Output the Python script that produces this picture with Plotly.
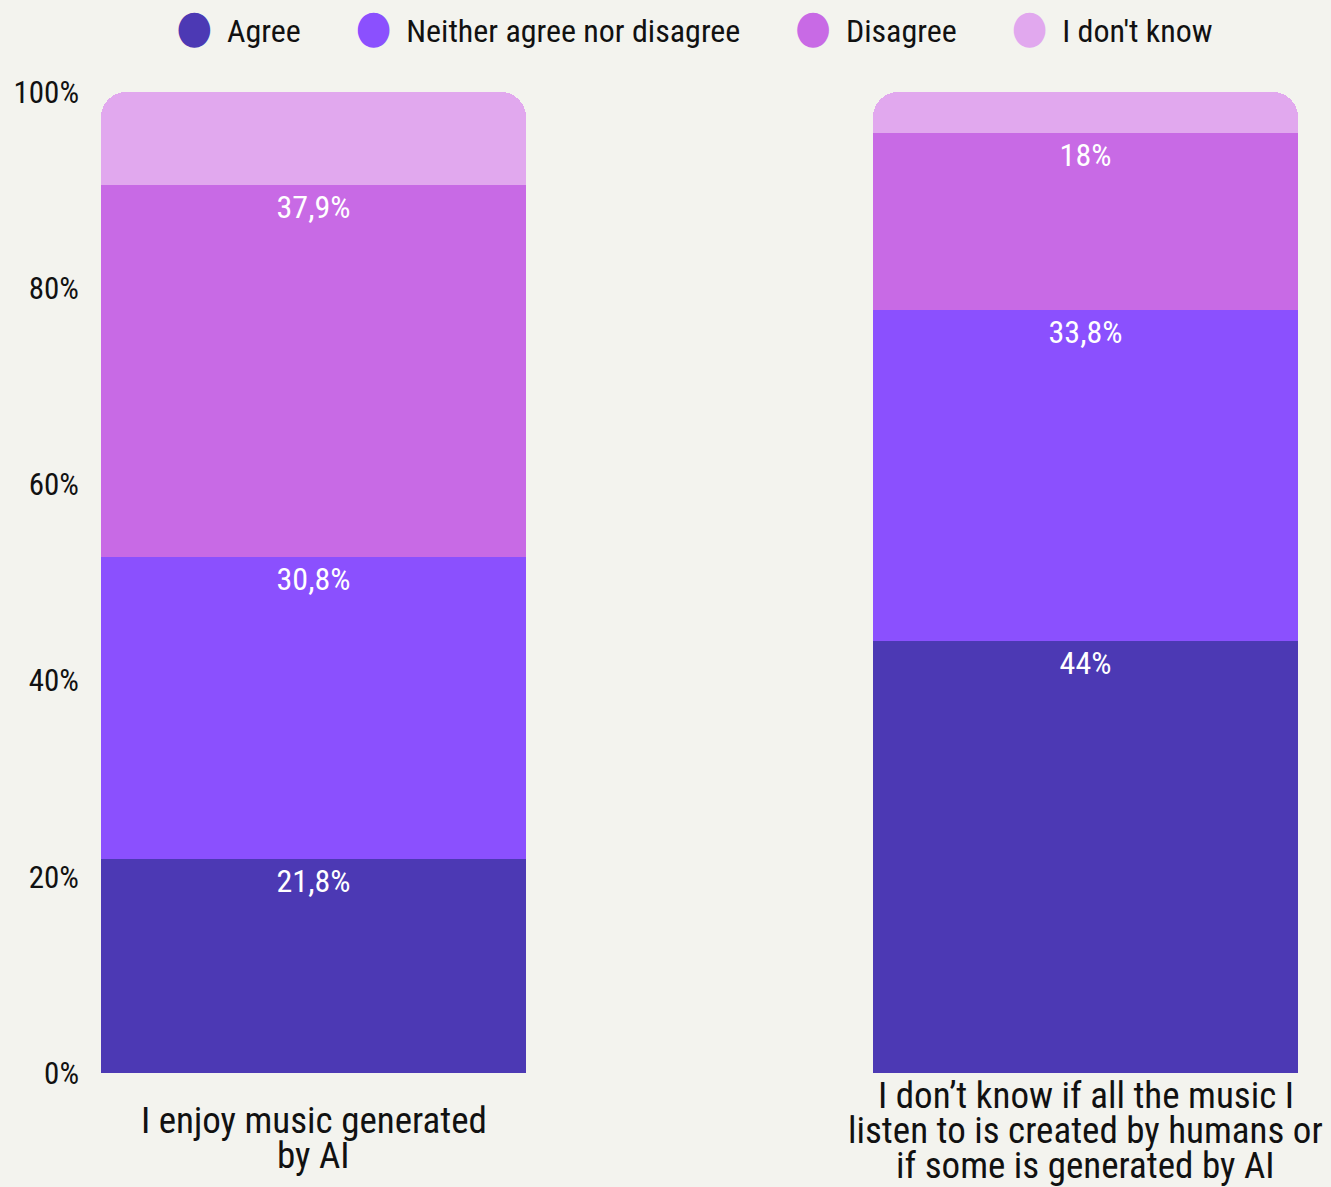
import plotly.graph_objects as go

# Survey statements (one stacked bar each) and their wrapped label lines
questions = [
    "I enjoy music generated by AI",
    "I don’t know if all the music I listen to is created by humans or if some is generated by AI",
]
question_lines = [
    ["I enjoy music generated", "by AI"],
    ["I don’t know if all the music I", "listen to is created by humans or", "if some is generated by AI"],
]

answers = ["Agree", "Neither agree nor disagree", "Disagree", "I don't know"]

# Share of respondents (%) per answer, one value per statement
agree = [21.8, 44]
neither = [30.8, 33.8]
disagree = [37.9, 18]
dont_know = [9.5, 4.2]

series = [agree, neither, disagree, dont_know]
labelled = [True, True, True, False]
colors = ["#4C39B4", "#8B50FE", "#C86AE5", "#E1A8EE"]

y_ticks = [0, 20, 40, 60, 80, 100]

FONT = "Roboto Condensed, Liberation Sans Narrow, DejaVu Sans Condensed, Roboto, sans-serif"
BG = "#F3F3EE"
LINE_STEP = 35  # px between wrapped label lines


def pct(v):
    return f"{v:g}".replace(".", ",") + "%"


fig = go.Figure()

for name, values, color, show in zip(answers, series, colors, labelled):
    fig.add_trace(go.Bar(
        x=questions,
        y=values,
        name=name,
        marker=dict(color=color, line=dict(width=0)),
        width=0.5505,
        text=[pct(v) for v in values] if show else None,
        textposition="inside" if show else "none",
        insidetextanchor="end",
        textangle=0,
        textfont=dict(color="white", size=32, family=FONT),
        constraintext="none",
        showlegend=False,
        hoverinfo="skip",
    ))

# Legend entries with large round swatches
for name, color in zip(answers, colors):
    fig.add_trace(go.Scatter(
        x=[None], y=[None], mode="markers",
        marker=dict(color="rgba(0,0,0,0)", size=1),
        name=f'<span style="color:{color};font-size:46px">●</span>&nbsp;&nbsp;{name}&#8196;',
        showlegend=True,
        hoverinfo="skip",
    ))

# Category labels under each bar: the block of lines is centred a little
# below the axis, so longer labels start higher
for q, lines in zip(questions, question_lines):
    n = len(lines)
    first = -24 + (n - 2) * 25
    for i, line in enumerate(lines):
        fig.add_annotation(
            x=q, xref="x", y=0, yref="paper",
            yanchor="top", yshift=first - LINE_STEP * i,
            text=line, showarrow=False,
            font=dict(size=37, color="#111111", family=FONT),
        )

fig.update_layout(
    width=1331, height=1187,
    paper_bgcolor=BG, plot_bgcolor=BG,
    barmode="stack",
    barcornerradius=25,
    margin=dict(l=84, r=20, t=92, b=114),
    font=dict(family=FONT, color="#111111"),
    showlegend=True,
    legend=dict(
        orientation="h", x=0.5125, xanchor="center", xref="container",
        y=0.998, yanchor="top", yref="container",
        traceorder="normal",
        font=dict(size=32, family=FONT, color="#111111"),
        itemwidth=30, bgcolor="rgba(0,0,0,0)",
    ),
    xaxis=dict(
        range=[-0.2973, 1.2921],
        showticklabels=False, showgrid=False, zeroline=False,
        showline=False, ticks="",
    ),
    yaxis=dict(
        range=[0, 100],
        tickvals=y_ticks,
        ticktext=[f"{v}%" for v in y_ticks],
        tickfont=dict(size=31, family=FONT, color="#111111"),
        ticklabelstandoff=4,
        showgrid=False, zeroline=False, showline=False, ticks="",
    ),
)

fig.write_html("out.html")
